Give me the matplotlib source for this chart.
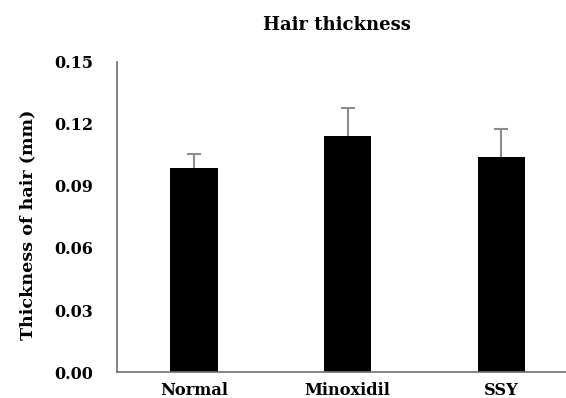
import matplotlib
matplotlib.use("Agg")
import matplotlib.pyplot as plt

groups = ["Normal", "Minoxidil", "SSY"]
thickness = [0.0988, 0.1143, 0.1042]
errors = [0.0067, 0.0136, 0.0134]
yticks = [0.00, 0.03, 0.06, 0.09, 0.12, 0.15]

plt.rcParams["font.family"] = "DejaVu Serif"
plt.rcParams["font.weight"] = "bold"

fig = plt.figure(figsize=(5.66, 3.98), dpi=100)
ax = fig.add_axes([0.2067, 0.0653, 0.7933, 0.779])

x = range(len(groups))
ax.bar(x, thickness, width=0.31, color="black", zorder=2)
# upper half only: hide the lower cap that would sit on the bar top
_, caps, _ = ax.errorbar(x, thickness, yerr=[[0] * len(errors), errors], fmt="none",
                         ecolor="#8c8c8c", elinewidth=1.5, capsize=5, capthick=1.5,
                         zorder=1)
caps[0].set_visible(False)

ax.set_xlim(-0.5, 2.42)
ax.set_ylim(0, 0.15)
ax.set_xticks(list(x))
ax.set_xticklabels(groups, fontsize=11.7, fontweight="bold")
ax.set_yticks(yticks)
ax.set_yticklabels([f"{v:.2f}" for v in yticks], fontsize=11.5, fontweight="bold")
ax.tick_params(length=0, pad=7)
ax.tick_params(axis="y", pad=17)

for side in ["top", "right"]:
    ax.spines[side].set_visible(False)
for side in ["left", "bottom"]:
    ax.spines[side].set_color("#707070")
    ax.spines[side].set_linewidth(1.2)

ax.set_ylabel("Thickness of hair (mm)", fontsize=12.6, fontweight="bold")
ax.yaxis.set_label_coords(-0.18, 0.474)
fig.text(0.596, 0.937, "Hair thickness", ha="center", va="center",
         fontsize=13, fontweight="bold")

fig.savefig("out.png", dpi=100)
